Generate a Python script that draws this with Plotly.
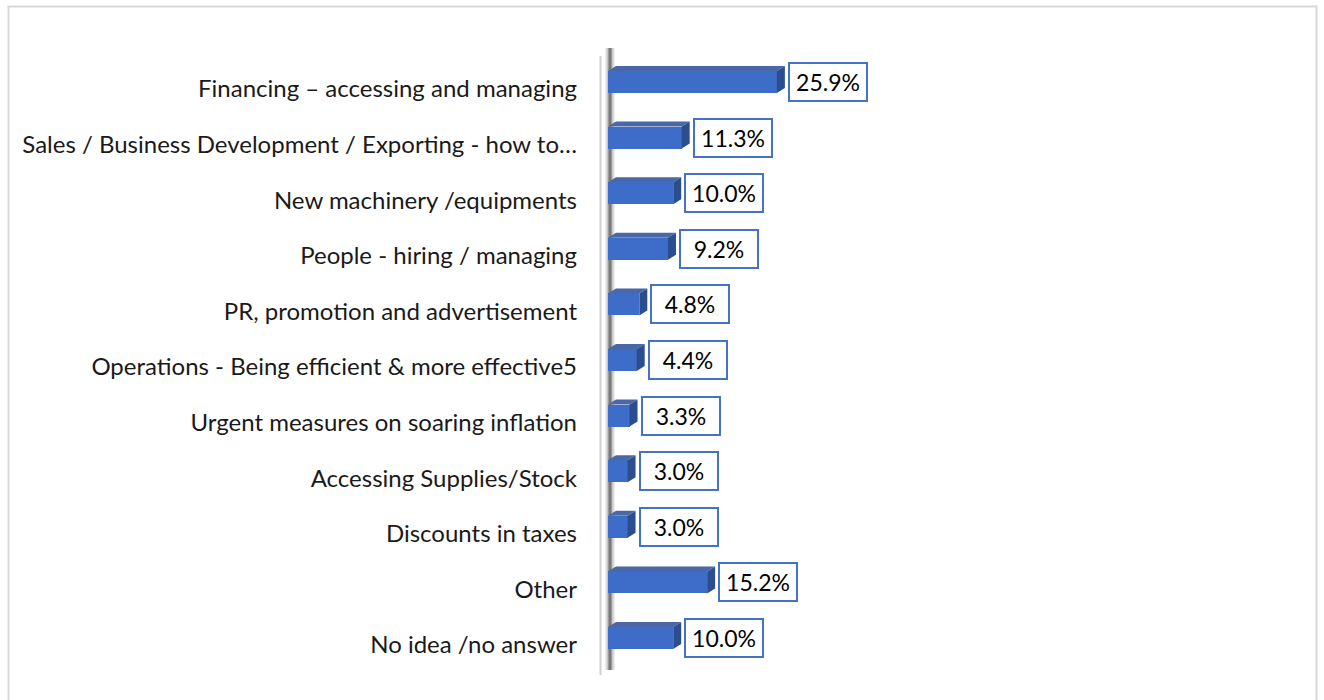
import plotly.graph_objects as go

# Survey answers, top to bottom
categories = [
    "Financing – accessing and managing",
    "Sales / Business Development / Exporting - how to…",
    "New machinery /equipments",
    "People - hiring / managing",
    "PR, promotion and advertisement",
    "Operations - Being efficient & more effective5",
    "Urgent measures on soaring inflation",
    "Accessing Supplies/Stock",
    "Discounts in taxes",
    "Other",
    "No idea /no answer",
]
shares = [25.9, 11.3, 10.0, 9.2, 4.8, 4.4, 3.3, 3.0, 3.0, 15.2, 10.0]

# Page geometry (pixels)
W, H = 1324, 700
PL, PR, PT, PB = 590, 1300, 40, 670      # plot area edges
X0_PX = 608                              # where 0 % sits
PX_PER_PCT = 6.52
ROW_PX = 55.6
Y0_PX = 82                               # centre of the first bar

x_min = -(X0_PX - PL) / PX_PER_PCT
x_max = (PR - X0_PX) / PX_PER_PCT
y_top = -(Y0_PX - PT) / ROW_PX
y_bot = (PB - Y0_PX) / ROW_PX

def px_to_x(px):
    return (px - X0_PX) / PX_PER_PCT

def px_to_paper_x(px):
    return (px - PL) / (PR - PL)

def px_to_paper_y(py):
    return (PB - py) / (PB - PT)

n = len(categories)
pos = list(range(n))
bar_h = 22 / ROW_PX          # front face thickness
dx = 8 / PX_PER_PCT          # depth of the 3-D extrusion
dy = 5 / ROW_PX

FRONT = "#3D6DC8"
TOP = "#4A68A8"
SIDE = "#2D4E8E"

fig = go.Figure()

# Top and side faces of each extruded bar
for p, v in zip(pos, shares):
    yt = p - bar_h / 2
    yb = p + bar_h / 2
    fig.add_trace(go.Scatter(
        x=[0, v, v + dx, dx, 0], y=[yt, yt, yt - dy, yt - dy, yt],
        fill="toself", fillcolor=TOP, line=dict(width=0), mode="lines",
        hoverinfo="skip", showlegend=False))
    fig.add_trace(go.Scatter(
        x=[v, v + dx, v + dx, v, v], y=[yt, yt - dy, yb - dy, yb, yt],
        fill="toself", fillcolor=SIDE, line=dict(width=0), mode="lines",
        hoverinfo="skip", showlegend=False))

# Front faces
fig.add_trace(go.Bar(
    x=shares, y=pos, orientation="h", width=bar_h,
    marker=dict(color=FRONT, line=dict(width=0)),
    hoverinfo="skip", showlegend=False))

# Value labels in outlined boxes
for p, v in zip(pos, shares):
    fig.add_annotation(
        x=v + dx, y=p, xref="x", yref="y", xanchor="left", yanchor="middle",
        xshift=3, text=f"{v:.1f}%", showarrow=False,
        width=74, height=34, align="center", valign="middle",
        font=dict(family="Lato", size=23, color="#000000"),
        bgcolor="#FFFFFF", bordercolor="#4472C4", borderwidth=2, borderpad=1)

shapes = []
# Light axis line and the shaded back wall
shapes.append(dict(type="line", xref="x", yref="paper",
                   x0=px_to_x(600.5), x1=px_to_x(600.5),
                   y0=px_to_paper_y(56), y1=px_to_paper_y(675),
                   line=dict(color="#D0D0D0", width=2), layer="below"))
for w, c in [(10, "#EDEDED"), (7, "#C8C8C8"), (4, "#9A9A9A"), (2, "#7A7A7A")]:
    shapes.append(dict(type="line", xref="x", yref="paper",
                       x0=px_to_x(610), x1=px_to_x(610),
                       y0=px_to_paper_y(48), y1=px_to_paper_y(670),
                       line=dict(color=c, width=w), layer="below"))
# Chart frame
shapes.append(dict(type="rect", xref="paper", yref="paper",
                   x0=px_to_paper_x(8.5), x1=px_to_paper_x(1316.5),
                   y0=px_to_paper_y(720), y1=px_to_paper_y(6.5),
                   line=dict(color="#D9D9D9", width=2), layer="below"))

fig.update_layout(
    width=W, height=H,
    margin=dict(l=PL, r=W - PR, t=PT, b=H - PB),
    paper_bgcolor="#FFFFFF", plot_bgcolor="#FFFFFF",
    shapes=shapes, bargap=0,
    xaxis=dict(range=[x_min, x_max], visible=False, fixedrange=True),
    yaxis=dict(range=[y_bot, y_top], tickmode="array",
               tickvals=[p + 7 / ROW_PX for p in pos], ticktext=categories,
               showgrid=False, zeroline=False, showline=False, ticks="",
               ticklabelstandoff=12,
               tickfont=dict(family="Lato", size=24, color="#1A1A1A")),
    showlegend=False,
)

fig.write_html("out.html")
